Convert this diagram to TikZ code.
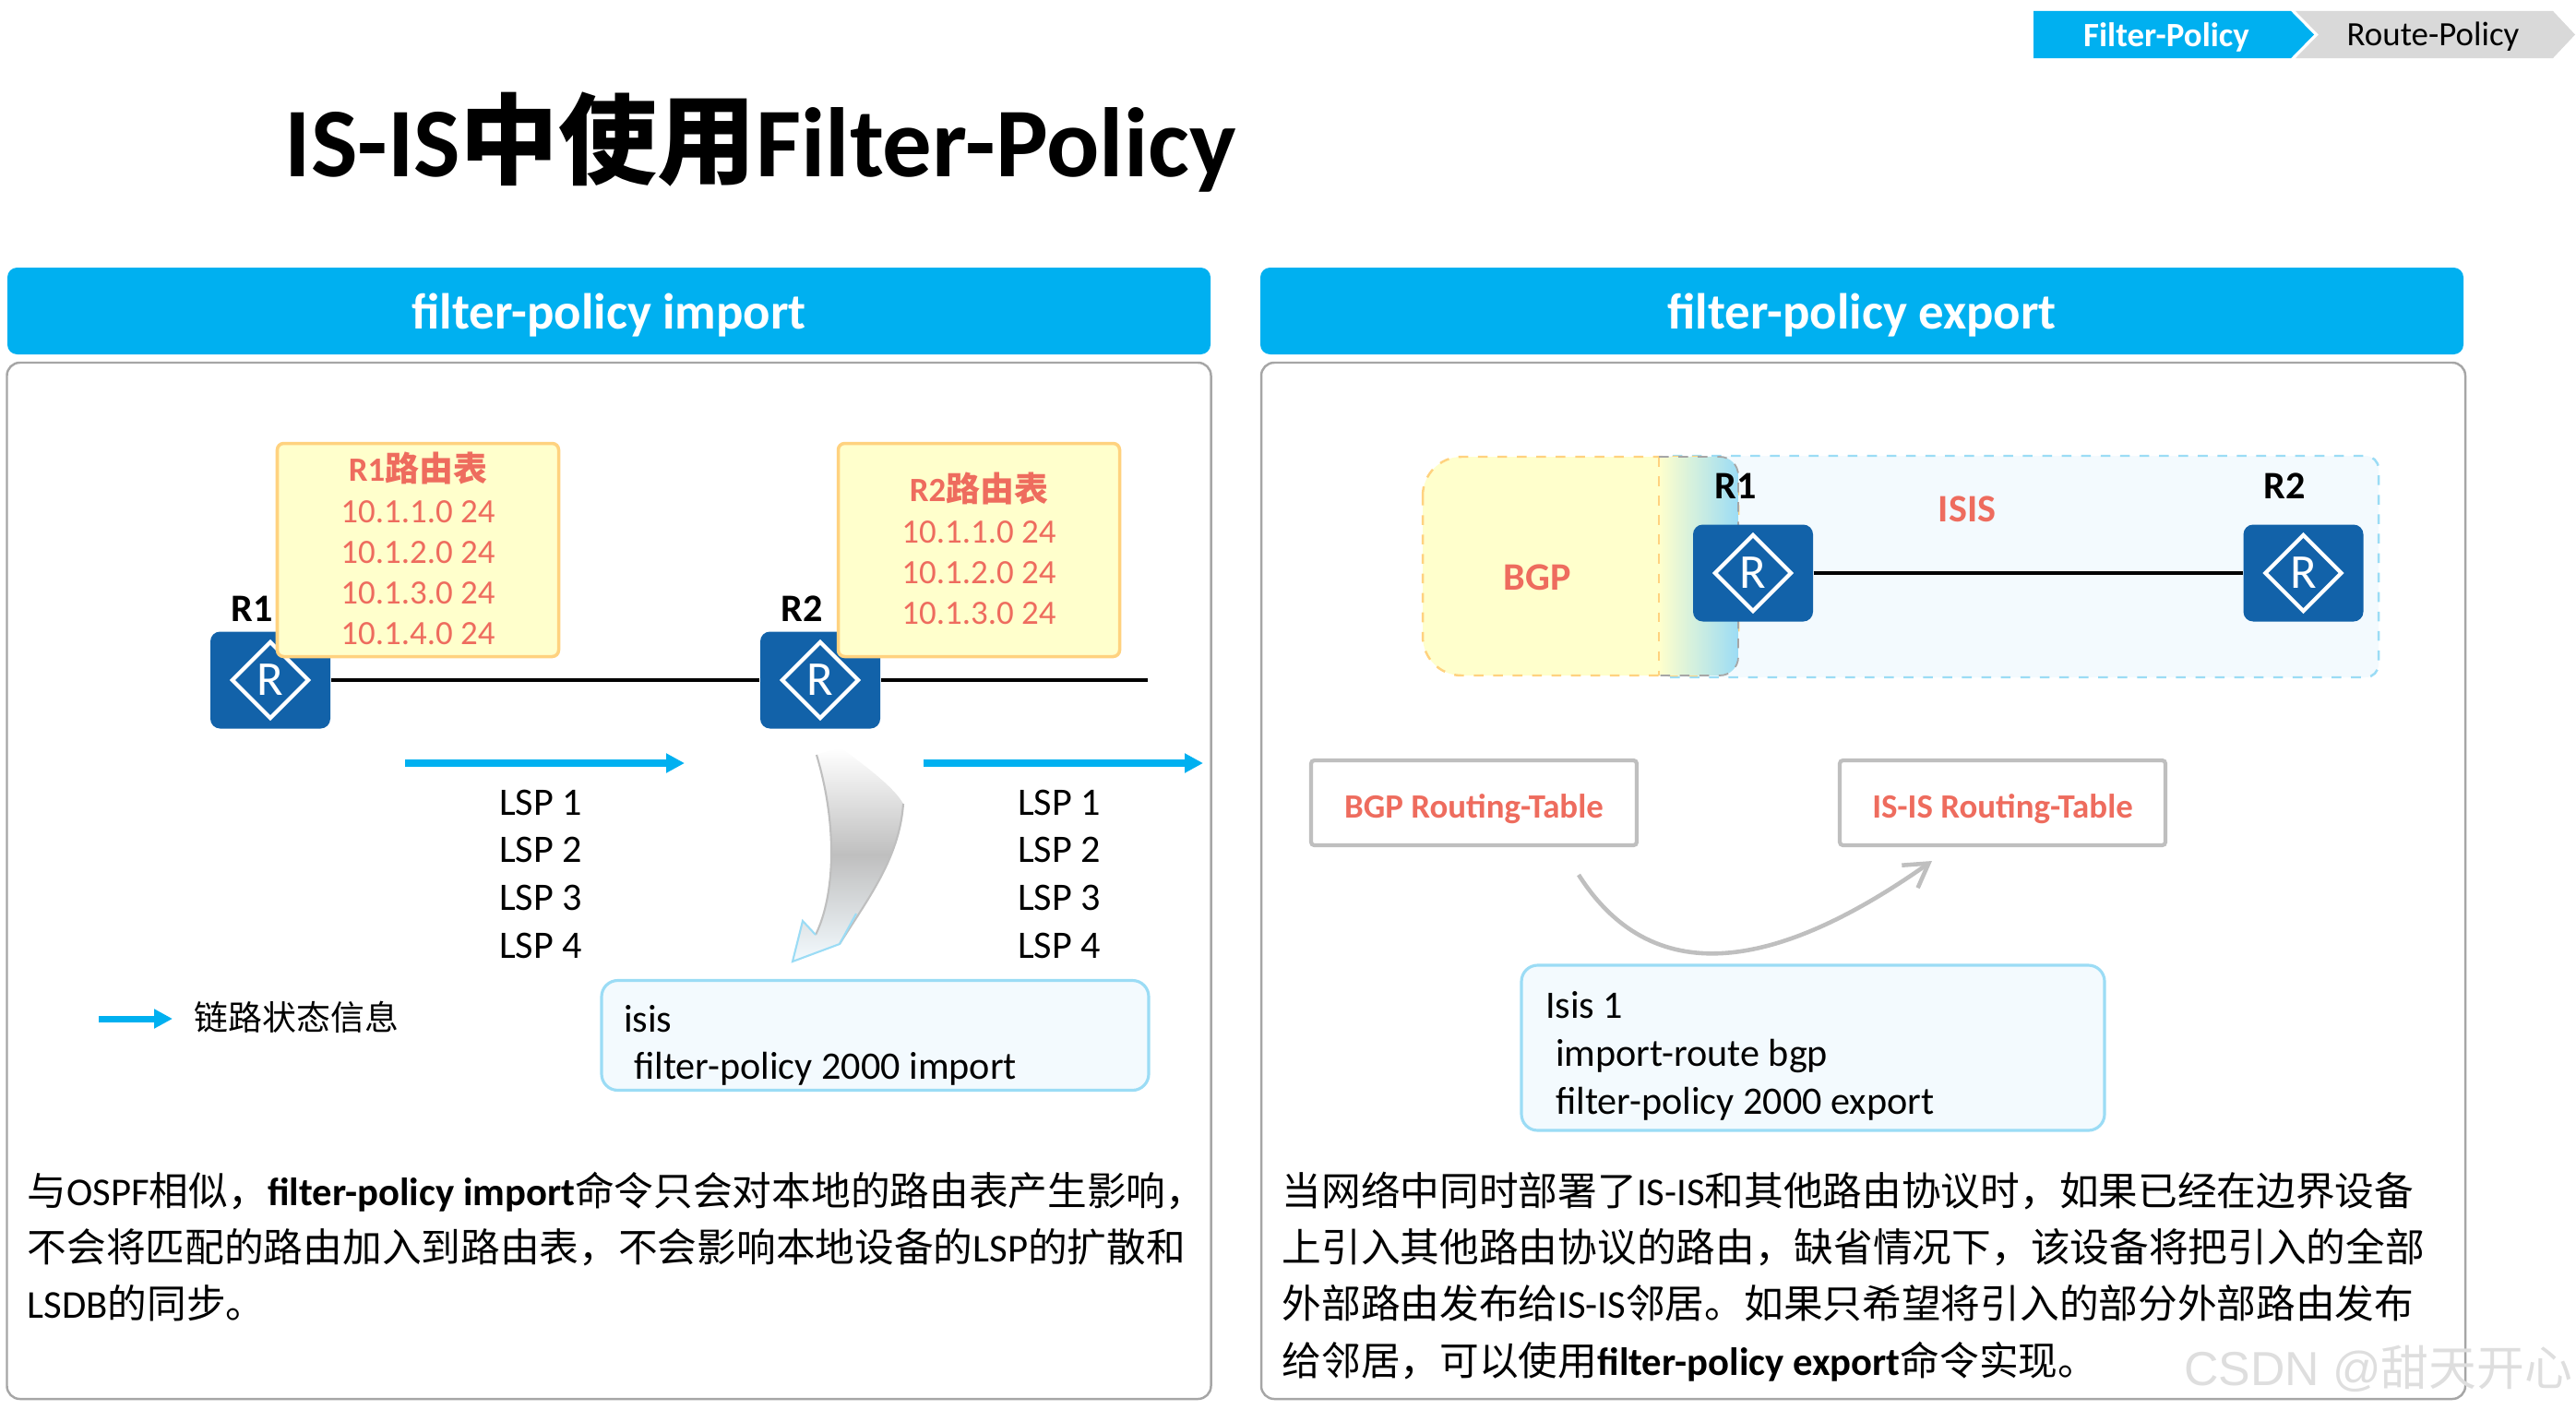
\documentclass[tikz,border=0pt]{standalone}
\usepackage{fontspec}
\setmainfont{Carlito}
\newfontfamily\cjk{Noto Sans CJK SC}
\newfontfamily\markfont{Liberation Sans}
\usepackage{xcolor}
\usetikzlibrary{arrows.meta,positioning,calc,shapes.geometric}
\definecolor{barblue}{HTML}{00B0F0}
\definecolor{routerblue}{HTML}{1262A9}
\definecolor{tipgray}{HTML}{D9D9D9}
\definecolor{framegray}{HTML}{A6A6A6}
\definecolor{boxgray}{HTML}{BFBFBF}
\definecolor{softred}{HTML}{EE6C5E}
\definecolor{paleyellow}{HTML}{FFFFCC}
\definecolor{edgeyellow}{HTML}{FFD27F}
\definecolor{paleblue}{HTML}{F3FAFE}
\definecolor{edgeblue}{HTML}{9BDCF5}
\newcommand{\zh}[1]{{\cjk #1}}
\newcommand{\routericon}[2]{\node[routerbox] (#1) at (#2) {}; \node[routermark] (#1m) at (#1) {R};}
\tikzset{
  headbar/.style={fill=barblue,rounded corners=3pt,minimum width=13.04cm,minimum height=0.94cm,inner sep=0pt,text=white,text depth=0pt,font=\fontsize{15.6}{19}\selectfont\bfseries},
  panelbox/.style={draw=framegray,line width=0.7pt,rounded corners=4pt,minimum width=13.05cm,minimum height=11.23cm,inner sep=0pt},
  routerbox/.style={fill=routerblue,rounded corners=3pt,minimum width=1.3cm,minimum height=1.05cm,inner sep=0pt},
  routermark/.style={diamond,draw=white,line width=1.2pt,minimum width=0.84cm,minimum height=0.84cm,inner sep=0pt,text=white,font=\fontsize{15}{15}\selectfont},
  routerlabel/.style={font=\fontsize{12}{14}\selectfont\bfseries,inner sep=0pt},
  tablebox/.style={draw=edgeyellow,fill=paleyellow,line width=1pt,rounded corners=2pt,minimum width=3.05cm,minimum height=2.31cm,inner sep=0pt,align=center,text=softred,font=\fontsize{10.5}{12.5}\selectfont},
  lsplist/.style={align=left,inner sep=0pt,font=\fontsize{12}{14.7}\selectfont},
  lsparrow/.style={barblue,line width=2pt,-{Triangle[length=0.2cm,width=0.2cm]}},
  link/.style={line width=0.9pt,black},
  cmdbox/.style={draw=edgeblue,fill=paleblue,line width=0.9pt,rounded corners=5pt,inner sep=0pt},
  cmdtext/.style={anchor=west,inner sep=0pt,align=left,font=\fontsize{12}{14.7}\selectfont},
  tagbox/.style={draw=boxgray,fill=white,line width=1.2pt,rounded corners=1pt,minimum width=3.53cm,minimum height=0.92cm,inner sep=0pt,text=softred,text height=9.5pt,text depth=0pt,font=\fontsize{10.5}{13}\selectfont\bfseries},
  bodytext/.style={align=left,inner sep=0pt,anchor=north west,font=\fontsize{12.15}{17.45}\selectfont},
  redtext/.style={text=softred,inner sep=0pt,font=\fontsize{12}{14}\selectfont\bfseries}
}
\begin{document}
\begin{tikzpicture}
\useasboundingbox (0,0) rectangle (27.92,-15.27);
\fill[barblue] (22.04,-0.12) -- (24.83,-0.12) -- (25.08,-0.375) -- (24.83,-0.63) -- (22.04,-0.63) -- cycle;
\fill[tipgray] (24.88,-0.12) -- (27.67,-0.12) -- (27.91,-0.375) -- (27.67,-0.63) -- (24.88,-0.63) -- (25.13,-0.375) -- cycle;
\node[text=white,inner sep=0pt,font=\fontsize{10.5}{14}\selectfont\bfseries] (tabf) at (23.48,-0.40) {Filter-Policy};
\node[inner sep=0pt,font=\fontsize{10.5}{14}\selectfont] (tabr) at (26.37,-0.40) {Route-Policy};
\node[anchor=west,inner sep=0pt,font=\fontsize{30.4}{36}\selectfont\bfseries] (title) at (3.08,-1.54) {IS-IS\zh{中使用}Filter-Policy};
\node[headbar] (hl) at (6.60,-3.37) {filter-policy import};
\node[headbar] (hr) at (20.18,-3.37) {filter-policy export};
\node[panelbox] (pl) at (6.60,-9.545) {};
\node[panelbox] (pr) at (20.195,-9.545) {};
\coordinate (r2end) at (12.44,-7.37);
\routericon{r1a}{2.93,-7.37}
\routericon{r2a}{8.89,-7.37}
\draw[link] (r1a) -- (r2a);
\draw[link] (r2a) -- (r2end);
\node[routerlabel] (r1al) at (2.73,-6.60) {R1};
\node[routerlabel] (r2al) at (8.69,-6.60) {R2};
\node[tablebox] (ta) at (4.53,-5.96) {\raisebox{0.5pt}{\textbf{R1\zh{路由表}}}\\10.1.1.0 24\\10.1.2.0 24\\10.1.3.0 24\\10.1.4.0 24\rule[-1pt]{0pt}{1pt}};
\node[tablebox] (tb) at (10.61,-5.96) {\raisebox{0.5pt}{\textbf{R2\zh{路由表}}}\\10.1.1.0 24\\10.1.2.0 24\\10.1.3.0 24\rule[-1pt]{0pt}{1pt}};
\coordinate (la1) at (4.39,-8.27);
\coordinate (la2) at (7.42,-8.27);
\coordinate (lb1) at (10.01,-8.27);
\coordinate (lb2) at (13.04,-8.27);
\coordinate (lg1) at (1.07,-11.04);
\coordinate (lg2) at (1.87,-11.04);
\draw[lsparrow] (la1) -- (la2);
\draw[lsparrow] (lb1) -- (lb2);
\draw[lsparrow] (lg1) -- (lg2);
\node[lsplist] (lspa) at (5.86,-9.47) {LSP 1\\LSP 2\\LSP 3\\LSP 4};
\node[lsplist] (lspb) at (11.48,-9.47) {LSP 1\\LSP 2\\LSP 3\\LSP 4};
\node[anchor=west,inner sep=0pt,font=\fontsize{10.5}{13}\selectfont] (lg) at (2.10,-11.02) {\zh{链路状态信息}};
\shade[top color=white,bottom color=paleblue,middle color=boxgray] (8.85,-8.18) .. controls (8.95,-8.14) and (9.05,-8.12) .. (9.12,-8.11) .. controls (9.45,-8.35) and (9.70,-8.55) .. (9.79,-8.71) .. controls (9.75,-9.30) and (9.40,-9.75) .. (9.10,-10.23) -- (8.59,-10.42) -- (8.70,-9.98) -- (8.84,-10.13) .. controls (9.05,-9.70) and (9.08,-8.95) .. (8.85,-8.18) -- cycle;
\draw[boxgray,line width=0.6pt] (8.85,-8.18) .. controls (9.08,-8.95) and (9.05,-9.70) .. (8.84,-10.13);
\draw[boxgray,line width=0.6pt] (9.79,-8.71) .. controls (9.75,-9.30) and (9.40,-9.75) .. (9.10,-10.23);
\draw[edgeblue,line width=0.6pt] (9.28,-9.90) -- (9.10,-10.23) -- (8.59,-10.42) -- (8.70,-9.98) -- (8.84,-10.13);
\node[cmdbox,minimum width=5.93cm,minimum height=1.19cm] (cmda) at (9.485,-11.22) {};
\node[cmdtext] (cmdat) at ($(cmda.west)+(0.25,-0.11)$) {isis\\\hspace*{1.1mm}filter-policy 2000 import};
\node[bodytext] (bodya) at (0.29,-12.69) {\zh{与}OSPF\zh{相似，}\textbf{filter-policy import}\zh{命令只会对本地的路由表产生影响，}\\\zh{不会将匹配的路由加入到路由表，不会影响本地设备的}LSP\zh{的扩散和}\\LSDB\zh{的同步。}};
\draw[edgeblue,dashed,line width=0.7pt,fill=paleblue,rounded corners=4pt] (17.98,-4.94) rectangle (25.78,-7.34);
\draw[edgeyellow,dashed,line width=0.7pt,fill=paleyellow,rounded corners=12pt] (15.42,-4.95) rectangle (18.84,-7.32);
\shade[left color=paleyellow,right color=edgeblue] (17.98,-4.95) -- (18.64,-4.95) .. controls (18.75,-4.95) and (18.84,-5.04) .. (18.84,-5.15) -- (18.84,-7.12) .. controls (18.84,-7.23) and (18.75,-7.32) .. (18.64,-7.32) -- (17.98,-7.32) -- cycle;
\draw[edgeyellow,dashed,line width=0.7pt] (17.98,-4.95) -- (17.98,-7.32);
\draw[framegray,dashed,line width=0.5pt] (17.98,-4.95) -- (18.64,-4.95) .. controls (18.75,-4.95) and (18.84,-5.04) .. (18.84,-5.15) -- (18.84,-7.12) .. controls (18.84,-7.23) and (18.75,-7.32) .. (18.64,-7.32) -- (17.98,-7.32);
\routericon{r1b}{19.00,-6.21}
\routericon{r2b}{24.965,-6.21}
\draw[link] (r1b) -- (r2b);
\node[routerlabel] (r1bl) at (18.81,-5.27) {R1};
\node[routerlabel] (r2bl) at (24.765,-5.27) {R2};
\node[redtext] (isis) at (21.32,-5.515) {ISIS};
\node[redtext] (bgp) at (16.66,-6.26) {BGP};
\node[tagbox] (tbgp) at (15.975,-8.70) {BGP Routing-Table};
\node[tagbox] (tisis) at (21.705,-8.70) {IS-IS Routing-Table};
\coordinate (cv1) at (17.11,-9.48);
\coordinate (cv2) at (20.94,-9.33);
\draw[boxgray,line width=1.3pt,-{Straight Barb[length=0.25cm,width=0.3cm]}] (cv1) .. controls (17.95,-10.80) and (19.35,-10.45) .. (cv2);
\node[cmdbox,minimum width=6.32cm,minimum height=1.79cm] (cmdb) at (19.65,-11.355) {};
\node[cmdtext] (cmdbt) at ($(cmdb.west)+(0.27,-0.09)$) {Isis 1\\\hspace*{1.1mm}import-route bgp\\\hspace*{1.1mm}filter-policy 2000 export};
\node[bodytext] (bodyb) at (13.89,-12.69) {\zh{当网络中同时部署了}IS-IS\zh{和其他路由协议时，如果已经在边界设备}\\\zh{上引入其他路由协议的路由，缺省情况下，该设备将把引入的全部}\\\zh{外部路由发布给}IS-IS\zh{邻居。如果只希望将引入的部分外部路由发布}\\\zh{给邻居，可以使用}\textbf{filter-policy export}\zh{命令实现。}};
\node[anchor=east,inner sep=0pt,text=black!13,font=\fontsize{14.75}{18}\markfont] (mark) at (27.89,-14.83) {CSDN @\zh{甜天开心}};
\end{tikzpicture}
\end{document}
